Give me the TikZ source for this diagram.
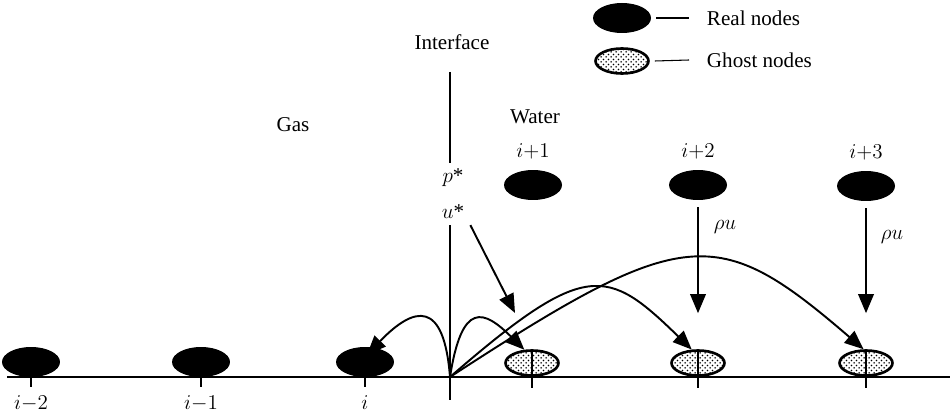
\documentclass[tikz,border=0pt]{standalone}
\usepackage{fontspec}
\setmainfont{Liberation Serif}
\usetikzlibrary{arrows.meta,positioning,calc,shapes.geometric,patterns}
\pgfdeclarepatternformonly{ghostdots}{\pgfpointorigin}{\pgfpoint{3pt}{3pt}}{\pgfpoint{3pt}{3pt}}{%
  \pgfpathcircle{\pgfpoint{0.75pt}{0.75pt}}{0.55pt}
  \pgfpathcircle{\pgfpoint{2.25pt}{2.25pt}}{0.55pt}
  \pgfusepath{fill}}
\tikzset{
  realnode/.style   = {ellipse, fill=black, minimum width=11.6mm, minimum height=6mm, inner sep=0pt},
  ghostnode/.style  = {ellipse, draw, line width=1.5pt, pattern=ghostdots, minimum width=10.6mm,
                       minimum height=5mm, inner sep=0pt},
  sig/.style        = {-{Triangle[length=3.8mm,width=3.1mm]}, line width=1.1pt},
  axis/.style       = {line width=1.7pt},
  iline/.style      = {line width=1.3pt},
  tick/.style       = {line width=1.1pt},
  legline/.style    = {line width=0.6pt},
  every node/.style = {font=\fontsize{12}{14}\selectfont},
  lbl/.style        = {inner sep=1.5pt},
}

\begin{document}
\begin{tikzpicture}[x=0.02cm, y=-0.02cm]
  \useasboundingbox (0,0) rectangle (950,415);
  % legend
  \node[realnode] (lreal) at (622,18) {};
  \node[lbl, anchor=west] (lrealtxt) at (704,18) {Real nodes};
  \node[ghostnode] (lghost) at (622,61) {};
  \node[lbl, anchor=west] (lghosttxt) at (704,60) {Ghost nodes};
  \draw[legline] ([xshift=1mm]lreal.east) -- ([xshift=-3mm]lrealtxt.west);
  \draw[legline] ([xshift=1mm]lghost.east) -- ([xshift=-3mm]lghosttxt.west);
  % regions and interface
  \node[lbl] (iface) at (452,42) {Interface};
  \node[lbl] (gas) at (293,125) {Gas};
  \node[lbl] (water) at (535,117) {Water};
  \node (pstar) at (453,178) {$p\mbox{*}$};
  \node (ustar) at (453,212) {$u\mbox{*}$};
  \coordinate (ifacetop) at (450,72);
  \coordinate (ifacebot) at (450,400);
  \draw[iline] (ifacetop) -- (pstar.north -| ifacetop);
  \draw[iline] (ustar.south -| ifacetop) -- (ifacebot);
  % axis
  \coordinate (axl) at (7,377);
  \coordinate (axr) at (950,377);
  \coordinate (o) at (450,377);
  \draw[axis] (axl) -- (axr);
  % real nodes on the gas side
  \node[realnode] (n2) at (31,362) {};
  \node[realnode] (n1) at (201,362) {};
  \node[realnode] (n0) at (365,362) {};
  \draw[tick] (n2.south) -- ++(0,10);
  \draw[tick] (n1.south) -- ++(0,10);
  \draw[tick] (n0.south) -- ++(0,10);
  \node[lbl, below=3mm of n2] (l2) {$i{-}2$};
  \node[lbl, below=3mm of n1] (l1) {$i{-}1$};
  \node[lbl, below=3mm of n0] (l0) {$i$};
  % ghost nodes on the water side
  \node[ghostnode] (g1) at (532,363) {};
  \node[ghostnode] (g2) at (698,363) {};
  \node[ghostnode] (g3) at (866,363) {};
  \draw[tick] ($(g1.center)+(0,-11)$) -- ($(g1.center)+(0,25)$);
  \draw[tick] ($(g2.center)+(0,-11)$) -- ($(g2.center)+(0,25)$);
  \draw[tick] ($(g3.center)+(0,-11)$) -- ($(g3.center)+(0,25)$);
  % real nodes on the water side
  \node[realnode] (r1) at (533,185) {};
  \node[realnode] (r2) at (698,185) {};
  \node[realnode] (r3) at (866,186) {};
  \node[lbl, above=1.5mm of r1] (lr1) {$i{+}1$};
  \node[lbl, above=1.5mm of r2] (lr2) {$i{+}2$};
  \node[lbl, above=1.5mm of r3] (lr3) {$i{+}3$};
  % arrows
  \coordinate (utip) at (515,313);
  \draw[sig] (ustar.south east) -- (utip);
  \draw[sig] (o) .. controls (444,300) and (415,305) .. ($(n0.north)+(2,8)$);
  \draw[sig] (o) .. controls (462,300) and (484,310) .. (g1.120);
  \draw[sig] (o) .. controls (586,259) and (607,267) .. (g2.115);
  \draw[sig] (o) .. controls (685,224) and (717,223) .. (g3.100);
  \draw[sig, shorten <=1.4mm, shorten >=7.2mm] (r2) -- (g2);
  \draw[sig, shorten <=1.4mm, shorten >=7.2mm] (r3) -- (g3);
  \node[lbl] (rhou2) at (725,227) {$\rho u$};
  \node[lbl] (rhou3) at (892,237) {$\rho u$};
\end{tikzpicture}
\end{document}
